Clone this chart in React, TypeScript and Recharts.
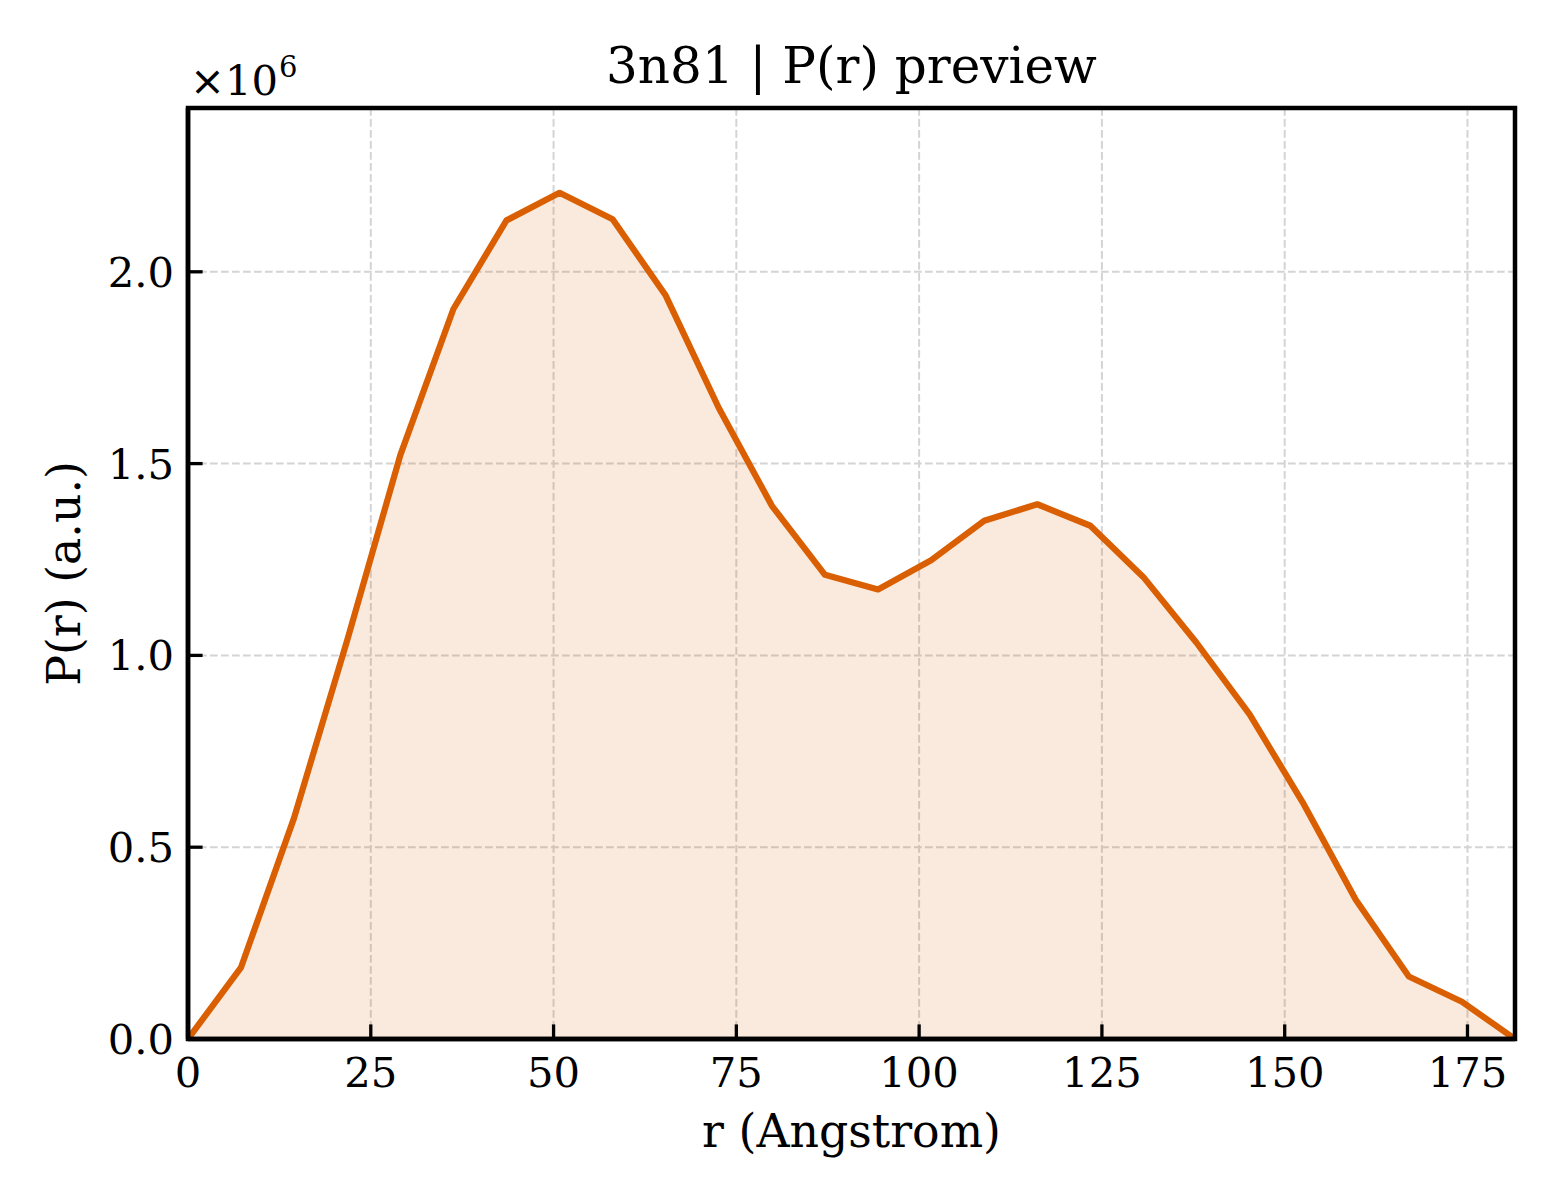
import { AreaChart, Area, XAxis, YAxis, CartesianGrid, Label, ReferenceArea } from 'recharts';

// r values (Angstrom) of the P(r) curve
const rValues = [
  0, 7.26, 14.52, 21.78, 29.04, 36.3, 43.56, 50.82, 58.08, 65.34, 72.6, 79.86, 87.12,
  94.38, 101.64, 108.9, 116.16, 123.42, 130.68, 137.94, 145.2, 152.46, 159.72, 166.98,
  174.24, 181.5,
];

// P(r) in units of 1e6
const prValues = [
  0, 0.187, 0.577, 1.04, 1.522, 1.903, 2.134, 2.206, 2.137, 1.938, 1.645, 1.39, 1.21,
  1.172, 1.248, 1.351, 1.394, 1.338, 1.204, 1.033, 0.846, 0.617, 0.363, 0.163, 0.097, 0,
];

const xTicks = [0, 25, 50, 75, 100, 125, 150, 175];
const yTicks = [0, 0.5e6, 1.0e6, 1.5e6, 2.0e6];

const X_MAX = 181.5;
const Y_MAX = 2427000;

const data = rValues.map((r, i) => ({ r, p: prValues[i] * 1e6 }));

const FONT = 'DejaVu Serif';
const ORANGE = '#d95f02';
const FRAME_W = 4.5;

const XTick = (props: any) => {
  const { x, y, payload } = props;
  return (
    <g>
      <line x1={x} y1={y} x2={x} y2={y - 14.6} stroke="#000" strokeWidth={3.3} />
      <text x={x} y={y + 48} textAnchor="middle" fontSize={41.7} fontFamily={FONT} fill="#000">
        {payload.value}
      </text>
    </g>
  );
};

const YTick = (props: any) => {
  const { x, y, payload } = props;
  return (
    <g>
      <line x1={x} y1={y} x2={x + 14.6} y2={y} stroke="#000" strokeWidth={3.3} />
      <text x={x - 14} y={y + 15} textAnchor="end" fontSize={41.7} fontFamily={FONT} fill="#000">
        {(payload.value / 1e6).toFixed(1)}
      </text>
    </g>
  );
};

// title, offset text and y label drawn together
const LabelsLayer = () => (
  <g>
    <text x={851.5} y={83} textAnchor="middle" fontSize={50} fontFamily={FONT} fill="#000">
      3n81 | P(r) preview
    </text>
    <text x={190} y={95} fontSize={41.7} fontFamily={FONT} fill="#000">
      <tspan fontFamily="DejaVu Sans">×</tspan>
      <tspan>10</tspan>
      <tspan dx={1} dy={-18} fontSize={29}>
        6
      </tspan>
    </text>
    <text
      transform="translate(80, 573.5) rotate(-90)"
      x={0}
      y={0}
      textAnchor="middle"
      fontSize={45.8}
      fontFamily={FONT}
      fill="#000"
    >
      P(r) (a.u.)
    </text>
  </g>
);

export default function App() {
  return (
    <div style={{ position: 'absolute', left: 0, top: 0, width: 1560, height: 1200, background: '#fff' }}>
      <AreaChart width={1560} height={1200} data={data} margin={{ top: 108, right: 45, bottom: 0, left: 0 }}>
        <CartesianGrid stroke="#d4d4d4" strokeWidth={2} strokeDasharray="7.7 3.3" />
        <Area
          type="linear"
          dataKey="p"
          stroke={ORANGE}
          strokeWidth={6.25}
          strokeLinejoin="round"
          fill={ORANGE}
          fillOpacity={0.13}
          dot={false}
          activeDot={false}
          isAnimationActive={false}
        />
        <ReferenceArea
          x1={0}
          x2={X_MAX}
          y1={0}
          y2={Y_MAX}
          fill="none"
          fillOpacity={0}
          stroke="#000"
          strokeWidth={FRAME_W}
          ifOverflow="visible"
        />
        <XAxis
          dataKey="r"
          type="number"
          domain={[0, X_MAX]}
          ticks={xTicks}
          allowDataOverflow
          height={161}
          tickSize={0}
          tickMargin={0}
          tickLine={false}
          tick={<XTick />}
          axisLine={{ stroke: '#000', strokeWidth: FRAME_W }}
          interval={0}
        >
          <Label
            content={() => (
              <text x={851.5} y={1147} textAnchor="middle" fontSize={45.8} fontFamily={FONT} fill="#000">
                r (Angstrom)
              </text>
            )}
          />
        </XAxis>
        <YAxis
          type="number"
          domain={[0, Y_MAX]}
          ticks={yTicks}
          allowDataOverflow
          width={188}
          tickSize={0}
          tickMargin={0}
          tickLine={false}
          tick={<YTick />}
          axisLine={{ stroke: '#000', strokeWidth: FRAME_W }}
          interval={0}
        >
          <Label content={() => <LabelsLayer />} />
        </YAxis>
      </AreaChart>
    </div>
  );
}
